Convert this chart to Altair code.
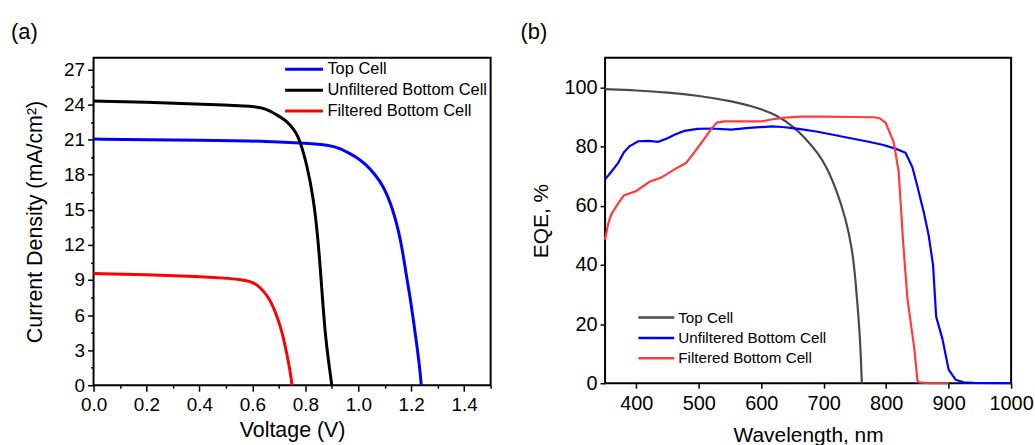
import altair as alt
import pandas as pd

FONT = "Liberation Sans"
NAMES = ["Top Cell", "Unfiltered Bottom Cell", "Filtered Bottom Cell"]

# ---------------- Panel (a): J-V curves ----------------
top_v = [0.0, 0.2, 0.4, 0.6, 0.7, 0.8, 0.89, 0.93, 0.97, 1.0, 1.03, 1.06, 1.094, 1.131, 1.162, 1.181, 1.194, 1.21, 1.222, 1.232, 1.238]
top_j = [21.05, 21.0, 20.95, 20.9, 20.8, 20.7, 20.55, 20.25, 19.8, 19.4, 18.85, 18.1, 17.1, 15.1, 12.3, 9.45, 7.8, 5.3, 3.3, 1.5, 0.0]
unf_v = [0.0, 0.2, 0.4, 0.5, 0.55, 0.6, 0.63, 0.66, 0.693, 0.72, 0.743, 0.765, 0.781, 0.806, 0.831, 0.849, 0.862, 0.875, 0.888, 0.9]
unf_j = [24.3, 24.2, 24.05, 23.95, 23.9, 23.85, 23.75, 23.55, 23.1, 22.75, 22.26, 21.6, 20.84, 18.85, 16.0, 12.3, 8.3, 4.33, 2.0, 0.0]
fil_v = [0.0, 0.2, 0.4, 0.5, 0.55, 0.593, 0.62, 0.643, 0.665, 0.681, 0.697, 0.712, 0.731, 0.742, 0.75]
fil_j = [9.55, 9.45, 9.3, 9.15, 9.05, 8.88, 8.55, 8.03, 7.35, 6.6, 5.6, 4.6, 2.6, 1.3, 0.0]

a_xticks = [0.0, 0.1, 0.2, 0.3, 0.4, 0.5, 0.6, 0.7, 0.8, 0.9, 1.0, 1.1, 1.2, 1.3, 1.4, 1.5]
a_yticks = [0, 1.5, 3, 4.5, 6, 7.5, 9, 10.5, 12, 13.5, 15, 16.5, 18, 19.5, 21, 22.5, 24, 25.5, 27]

# ---------------- Panel (b): EQE spectra ----------------
top_w = [350, 400, 450, 500, 550, 600, 625, 650, 670, 690, 705, 720, 735, 746, 751, 755.5, 759, 761]
top_q = [99.4, 99.0, 98.3, 97.2, 95.5, 92.8, 90.5, 87.0, 83.0, 78.0, 73.0, 65.5, 56.0, 45.0, 34.5, 23.0, 12.0, 0.0]
unf_w = [350, 360, 371, 380, 389, 403, 420, 435, 450, 461, 477, 498, 520, 552, 580, 616, 634, 660, 688, 715, 741, 770, 794, 815, 831, 842, 850, 860, 868, 875, 880, 890, 900, 911, 924, 940, 1000]
unf_q = [68.9, 71.5, 74.5, 78.0, 80.1, 81.8, 81.9, 81.6, 82.8, 84.0, 85.3, 86.0, 86.1, 85.7, 86.3, 86.8, 86.6, 86.0, 85.1, 84.0, 82.9, 81.7, 80.6, 79.3, 77.9, 73.0, 66.5, 58.0, 50.0, 40.0, 22.5, 15.0, 4.6, 1.2, 0.3, 0.1, 0.0]
fil_w = [350, 355, 360, 370, 380, 400, 421, 440, 461, 480, 498, 512, 520, 529, 541, 600, 620, 637, 664, 700, 750, 781, 790, 799, 812, 820, 827, 834, 845, 850, 853, 870, 900]
fil_q = [48.5, 54.0, 57.1, 60.5, 63.5, 65.0, 68.1, 69.5, 72.3, 74.5, 79.5, 83.5, 86.0, 88.1, 88.5, 88.5, 89.3, 89.8, 90.1, 90.1, 90.0, 89.9, 89.5, 88.1, 81.5, 71.5, 48.0, 28.6, 11.8, 1.0, 0.3, 0.0, 0.0]

b_xticks = [400, 500, 600, 700, 800, 900, 1000]
b_yticks = [0, 20, 40, 60, 80, 100]

COLORS_A = ["#0000ff", "#000000", "#ff0000"]
COLORS_B = ["#4a4a4a", "#0000ff", "#ff3b3b"]


def frame(xs_list, ys_list):
    rows = []
    for name, xs, ys in zip(NAMES, xs_list, ys_list):
        for x, y in zip(xs, ys):
            rows.append({"series": name, "x": x, "y": y})
    return pd.DataFrame(rows)


df_a = frame([top_v, unf_v, fil_v], [top_j, unf_j, fil_j])
df_b = frame([top_w, unf_w, fil_w], [top_q, unf_q, fil_q])

common = dict(
    labelFont=FONT, titleFont=FONT, labelColor="black", titleColor="black",
    tickColor="black", domain=False, grid=False, labelOverlap=False,
    labelFlush=False, titleFontWeight="normal",
)

# ---- chart (a)
ax = alt.X(
    "x:Q", scale=alt.Scale(domain=[0, 1.5], nice=False, zero=False),
    axis=alt.Axis(
        title="Voltage (V)", values=a_xticks,
        labelExpr="round(datum.value*10) % 2 == 0 ? format(datum.value, '.1f') : ''",
        tickSize={"condition": {"test": "round(datum.value*10) % 2 != 0", "value": 3}, "value": 6},
        tickWidth=1.5, labelFontSize=19, titleFontSize=21.5, labelPadding=4, titlePadding=6,
        **common),
)
ay = alt.Y(
    "y:Q", scale=alt.Scale(domain=[0, 28], nice=False),
    axis=alt.Axis(
        title="Current Density (mA/cm²)", values=a_yticks,
        labelExpr="round(datum.value*2) % 6 == 0 ? format(datum.value, 'd') : ''",
        tickSize={"condition": {"test": "round(datum.value*2) % 6 != 0", "value": 3}, "value": 6},
        tickWidth=1.5, labelFontSize=19, titleFontSize=21.5, labelPadding=3, titlePadding=17,
        **common),
)
color_a = alt.Color(
    "series:N", sort=NAMES,
    scale=alt.Scale(domain=NAMES, range=COLORS_A),
    legend=alt.Legend(
        title=None, orient="none", legendX=191, legendY=3, symbolType="stroke",
        symbolSize=1444, symbolStrokeWidth=3, labelFontSize=16.5, labelFont=FONT,
        labelColor="black", labelLimit=400, clipHeight=17, rowPadding=4,
        labelOffset=3, padding=0),
)
chart_a = alt.Chart(df_a).mark_line(strokeWidth=3, interpolate="basis").encode(
    x=ax, y=ay, color=color_a
).properties(
    width=399, height=329,
    title=alt.TitleParams("(a)", anchor="start", frame="group", dx=-83, offset=14,
                          fontSize=22, font=FONT, fontWeight="normal", color="black"),
)

# ---- chart (b)
bx = alt.X(
    "x:Q", scale=alt.Scale(domain=[350, 1000], nice=False, zero=False),
    axis=alt.Axis(title="Wavelength, nm", values=b_xticks, format="d",
                  tickSize=5, tickWidth=1.5, labelFontSize=20, titleFontSize=21,
                  labelPadding=5, titlePadding=12, **common),
)
by = alt.Y(
    "y:Q", scale=alt.Scale(domain=[0, 110], nice=False),
    axis=alt.Axis(title="EQE, %", values=b_yticks, format="d",
                  tickSize=5, tickWidth=1.5, labelFontSize=20, titleFontSize=21,
                  labelPadding=3, titlePadding=12, **common),
)
color_b = alt.Color(
    "series:N", sort=NAMES,
    scale=alt.Scale(domain=NAMES, range=COLORS_B),
    legend=alt.Legend(
        title=None, orient="none", legendX=32, legendY=253, symbolType="stroke",
        symbolSize=1296, symbolStrokeWidth=2.5, labelFontSize=15.3, labelFont=FONT,
        labelColor="black", labelLimit=400, clipHeight=16, rowPadding=3.5,
        labelOffset=2.5, padding=0),
)
base_b = alt.Chart(df_b).encode(x=bx, y=by, color=color_b)
top_line = base_b.transform_filter(alt.datum.series == NAMES[0]).mark_line(
    strokeWidth=2.2, interpolate="basis")
other_lines = base_b.transform_filter(alt.datum.series != NAMES[0]).mark_line(
    strokeWidth=2.2)
chart_b = alt.layer(top_line, other_lines).properties(
    width=408, height=327,
    title=alt.TitleParams("(b)", anchor="start", frame="group", dx=-85, offset=14,
                          fontSize=22, font=FONT, fontWeight="normal", color="black"),
)

chart = alt.hconcat(chart_a, chart_b, spacing=27).resolve_scale(
    color="independent"
).properties(
    padding={"left": 10, "top": 19, "right": 0, "bottom": 0},
    background="white",
).configure_view(stroke="black", strokeWidth=2)

chart.save("out.html", embed_options={"renderer": "svg", "actions": False})
